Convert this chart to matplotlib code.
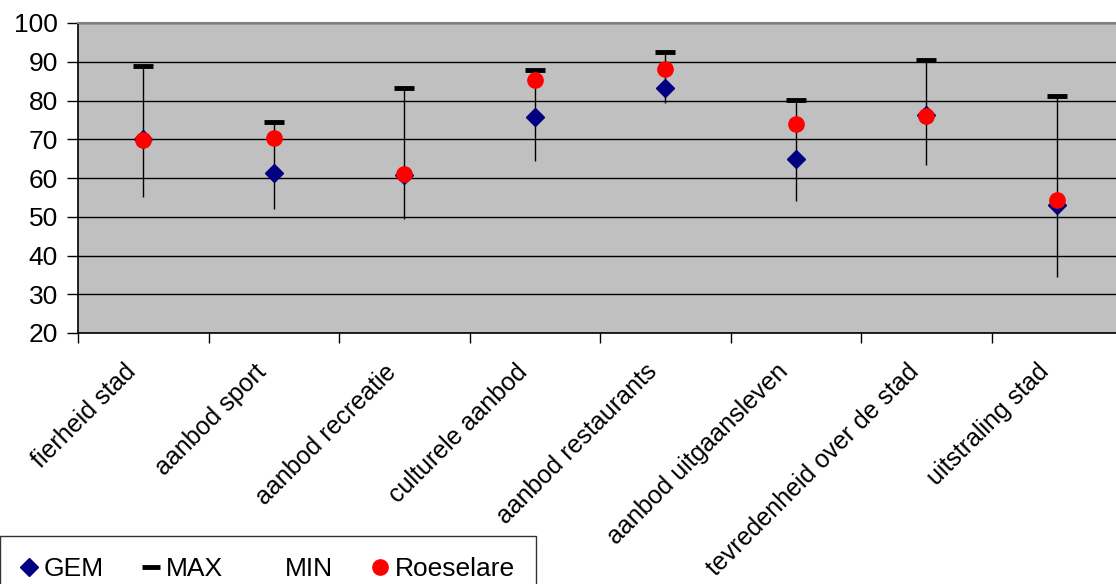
import matplotlib
matplotlib.use("Agg")
import matplotlib.pyplot as plt
from matplotlib.lines import Line2D
from matplotlib.transforms import ScaledTranslation
import numpy as np

plt.rcParams['font.family'] = ['Liberation Sans', 'DejaVu Sans']

categories = ["fierheid stad", "aanbod sport", "aanbod recreatie", "culturele aanbod",
              "aanbod restaurants", "aanbod uitgaansleven", "tevredenheid over de stad",
              "uitstraling stad"]
gem = [70.1, 61.3, 60.7, 75.7, 83.3, 64.8, 76.3, 53.0]
mx = [88.8, 74.4, 83.1, 87.8, 92.4, 80.1, 90.4, 81.1]
mn = [55.0, 51.9, 49.4, 64.3, 79.3, 54.0, 63.4, 34.5]
roeselare = [69.8, 70.3, 61.1, 85.2, 88.2, 73.9, 75.9, 54.3]
yticks = [20, 30, 40, 50, 60, 70, 80, 90, 100]

W, H = 1116, 584
fig = plt.figure(figsize=(W / 100, H / 100), dpi=100)
ax = fig.add_axes([78 / W, 1 - 333 / H, (1122 - 78) / W, (333 - 23) / H])
ax.set_facecolor('#C0C0C0')

x = np.arange(len(categories))
ax.vlines(x, mn, mx, colors='black', linewidth=1.0, zorder=3)
ax.plot(x, mx, linestyle='none', marker='_', markersize=14, markeredgewidth=3.5,
        color='black', zorder=4)
ax.plot(x, gem, linestyle='none', marker='D', markersize=9, color='#000080', zorder=5)
ax.plot(x, roeselare, linestyle='none', marker='o', markersize=11, color='#FF0000', zorder=6)

ax.set_xlim(-0.5, len(categories) - 0.5)
ax.set_ylim(20, 100)
ax.set_yticks(yticks)
ax.set_yticklabels([str(v) for v in yticks], fontsize=19)
ax.yaxis.grid(True, color='black', linewidth=1.0)
ax.set_axisbelow(True)

ax.set_xticks(np.arange(len(categories) + 1) - 0.5)
ax.set_xticklabels([])
ax.set_xticks(x, minor=True)
ax.tick_params(axis='x', which='minor', length=0, pad=12)
ax.tick_params(axis='x', which='major', length=7, width=1, direction='out')
ax.tick_params(axis='y', length=8, width=1, direction='out', pad=6.5)
ax.set_xticklabels(categories, minor=True, rotation=45, ha='right', va='top',
                   rotation_mode='anchor', fontsize=18)
offset = ScaledTranslation(-20 / 100, -10 / 100, fig.dpi_scale_trans)
for lab in ax.get_xticklabels(minor=True):
    lab.set_transform(lab.get_transform() + offset)

for s in ['left', 'bottom']:
    ax.spines[s].set_color('black')
    ax.spines[s].set_linewidth(1.2)
ax.spines['top'].set_color('#808080')
ax.spines['top'].set_linewidth(1.5)
ax.spines['right'].set_visible(False)

handles = [
    Line2D([], [], linestyle='none', marker='D', markersize=9, color='#000080'),
    Line2D([], [], linestyle='none', marker='_', markersize=13, markeredgewidth=3.5, color='black'),
    Line2D([], [], linestyle='none'),
    Line2D([], [], linestyle='none', marker='o', markersize=11, color='#FF0000'),
]
leg = fig.legend(handles, ["GEM", "MAX", "MIN", "Roeselare"], loc='upper left',
                 bbox_to_anchor=(0.0, 1 - 536 / H), ncol=4, frameon=True, fancybox=False,
                 fontsize=19, borderaxespad=0, handlelength=0.6, handletextpad=0.25,
                 columnspacing=1.5, borderpad=0.8)
leg.get_frame().set_edgecolor('black')
leg.get_frame().set_linewidth(1.0)

fig.savefig('out.png', dpi=100)
